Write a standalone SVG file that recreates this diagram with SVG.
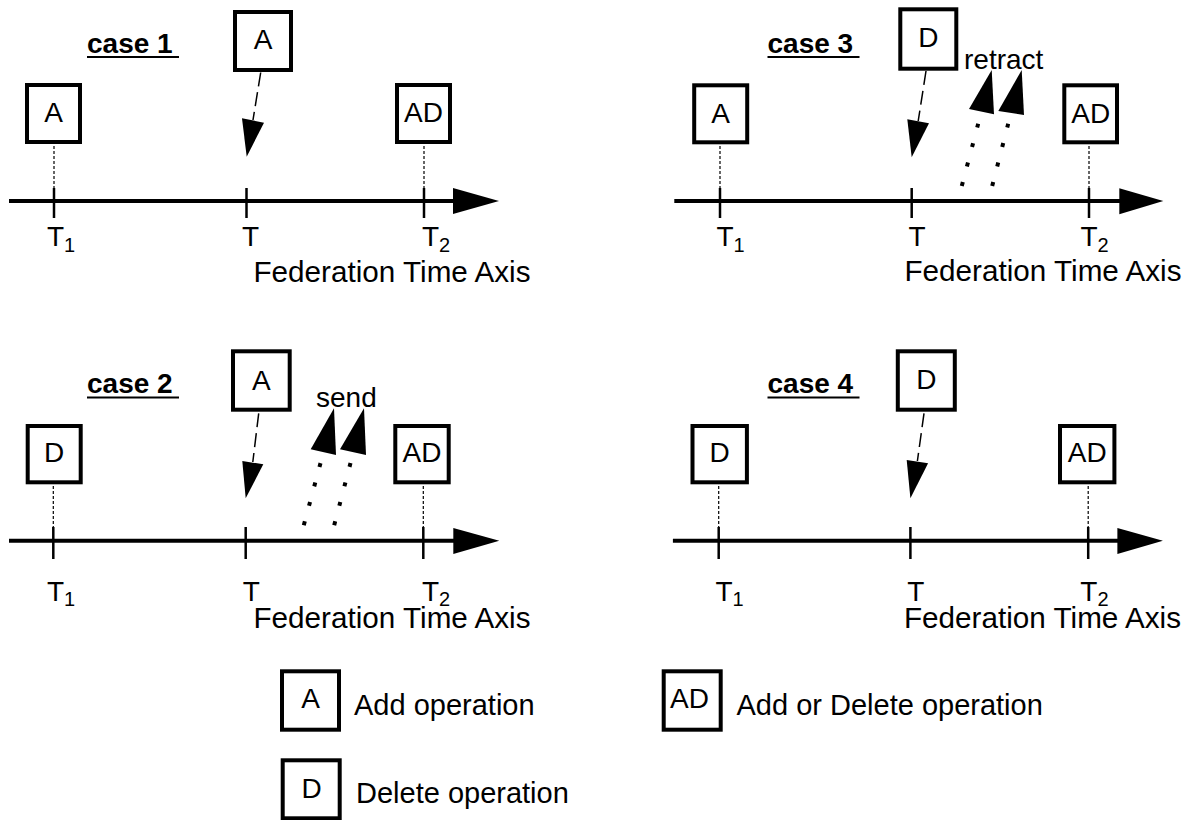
<svg xmlns="http://www.w3.org/2000/svg" width="1192" height="820" viewBox="0 0 1192 820">
<style>
  text { font-family: "Liberation Sans", Arial, Helvetica, sans-serif; fill: #000; }
  .lbl { font-size: 28px; }
  .box-t { font-size: 28px; text-anchor: middle; }
  .title { font-size: 28px; font-weight: bold; }
  .leg { font-size: 29px; }
  .fta { font-size: 29px; }
  .sub { font-size: 20px; }
  .box { fill: #fff; stroke: #000; stroke-width: 4; }
  .uline { stroke: #000; stroke-width: 2; }
  .axis { stroke: #000; stroke-width: 4; fill: none; }
  .tick { stroke: #000; stroke-width: 2.5; }
  .guide { stroke: #000; stroke-width: 1.2; stroke-dasharray: 3 2; }
  .dash { stroke: #000; stroke-width: 1.5; stroke-dasharray: 14 6; fill: none; }
  .dots { stroke: #000; stroke-width: 4; stroke-dasharray: 4 16.1; fill: none; }
  .head { fill: #000; stroke: none; }
</style>
<rect width="1192" height="820" fill="#fff"/>

<!-- ===================== CASE 1 ===================== -->
<g id="case1">
  <g id="case1-title">
    <text class="title" x="87" y="53">case 1</text>
    <line class="uline" x1="87" y1="57" x2="179" y2="57"/>
  </g>
  <g id="case1-axis">
    <line class="axis" x1="9" y1="201" x2="456" y2="201"/>
    <polygon class="head" points="453,188 499,201 453,214"/>
    <line class="tick" x1="54" y1="188" x2="54" y2="218"/>
    <line class="tick" x1="246.5" y1="188" x2="246.5" y2="218"/>
    <line class="tick" x1="424" y1="188" x2="424" y2="218"/>
    <text class="lbl" x="47" y="245.5">T<tspan class="sub" dy="6.5">1</tspan></text>
    <text class="lbl" x="242" y="245.5">T</text>
    <text class="lbl" x="422" y="245.5">T<tspan class="sub" dy="6.5">2</tspan></text>
    <text class="fta" x="253.5" y="281.5" textLength="277" lengthAdjust="spacingAndGlyphs">Federation Time Axis</text>
  </g>
  <g id="case1-A-left">
    <rect class="box" x="27" y="85" width="53" height="57"/>
    <text class="box-t" x="53.5" y="122">A</text>
  </g>
  <g id="case1-A-top">
    <rect class="box" x="235" y="12" width="56" height="58"/>
    <text class="box-t" x="263" y="49">A</text>
  </g>
  <g id="case1-AD">
    <rect class="box" x="397" y="85" width="53" height="57"/>
    <text class="box-t" x="423.5" y="122">AD</text>
  </g>
</g>

<!-- ===================== CASE 2 ===================== -->
<g id="case2">
  <g id="case2-title">
    <text class="title" x="87" y="393.3">case 2</text>
    <line class="uline" x1="87" y1="397.5" x2="179" y2="397.5"/>
  </g>
  <g id="case2-axis">
    <line class="axis" x1="9" y1="540.7" x2="456" y2="540.7"/>
    <polygon class="head" points="453.3,528 499.3,540.7 453.3,554"/>
    <line class="tick" x1="53.3" y1="527" x2="53.3" y2="559"/>
    <line class="tick" x1="245.7" y1="527" x2="245.7" y2="559"/>
    <line class="tick" x1="423.3" y1="527" x2="423.3" y2="559"/>
    <text class="lbl" x="47" y="600.5">T<tspan class="sub" dy="5">1</tspan></text>
    <text class="lbl" x="242.7" y="600.5">T</text>
    <text class="lbl" x="422" y="600.5">T<tspan class="sub" dy="5">2</tspan></text>
    <text class="fta" x="253.5" y="628" textLength="277" lengthAdjust="spacingAndGlyphs">Federation Time Axis</text>
  </g>
  <g id="case2-D-left">
    <rect class="box" x="27.7" y="426" width="53" height="56.3"/>
    <text class="box-t" x="54.2" y="461.7">D</text>
  </g>
  <g id="case2-A-top">
    <rect class="box" x="233" y="351.3" width="56.7" height="58.4"/>
    <text class="box-t" x="261.3" y="390">A</text>
  </g>
  <g id="case2-AD">
    <rect class="box" x="395.3" y="426" width="53.4" height="56.3"/>
    <text class="box-t" x="422" y="461.7">AD</text>
  </g>
  <text class="lbl" x="316" y="407.3">send</text>
</g>

<!-- ===================== CASE 3 ===================== -->
<g id="case3">
  <g id="case3-title">
    <text class="title" x="767.5" y="53.3">case 3</text>
    <line class="uline" x1="767.5" y1="57" x2="859.5" y2="57"/>
  </g>
  <g id="case3-axis">
    <line class="axis" x1="674.3" y1="201" x2="1122" y2="201"/>
    <polygon class="head" points="1119.3,188.3 1163.3,201 1119.3,214.3"/>
    <line class="tick" x1="720" y1="188" x2="720" y2="218"/>
    <line class="tick" x1="911.7" y1="188" x2="911.7" y2="218"/>
    <line class="tick" x1="1089" y1="188" x2="1089" y2="218"/>
    <text class="lbl" x="716.5" y="245.5">T<tspan class="sub" dy="6.5">1</tspan></text>
    <text class="lbl" x="908.5" y="245.5">T</text>
    <text class="lbl" x="1080.5" y="245.5">T<tspan class="sub" dy="6.5">2</tspan></text>
    <text class="fta" x="904.5" y="281" textLength="277" lengthAdjust="spacingAndGlyphs">Federation Time Axis</text>
  </g>
  <g id="case3-A-left">
    <rect class="box" x="694.2" y="85.3" width="53" height="57"/>
    <text class="box-t" x="720.7" y="122.5">A</text>
  </g>
  <g id="case3-D-top">
    <rect class="box" x="900.3" y="9.3" width="56" height="59.4"/>
    <text class="box-t" x="928.3" y="46.7">D</text>
  </g>
  <g id="case3-AD">
    <rect class="box" x="1064.3" y="85.3" width="52.7" height="57"/>
    <text class="box-t" x="1090.7" y="122.5">AD</text>
  </g>
  <text class="lbl" x="964" y="69">retract</text>
</g>

<!-- ===================== CASE 4 ===================== -->
<g id="case4">
  <g id="case4-title">
    <text class="title" x="767.5" y="393.3">case 4</text>
    <line class="uline" x1="767.5" y1="397.5" x2="859.5" y2="397.5"/>
  </g>
  <g id="case4-axis">
    <line class="axis" x1="672.9" y1="540.7" x2="1120" y2="540.7"/>
    <polygon class="head" points="1117.4,528 1162.9,540.7 1117.4,554"/>
    <line class="tick" x1="718.7" y1="527" x2="718.7" y2="559"/>
    <line class="tick" x1="910.4" y1="527" x2="910.4" y2="559"/>
    <line class="tick" x1="1088.2" y1="527" x2="1088.2" y2="559"/>
    <text class="lbl" x="715.5" y="600.5">T<tspan class="sub" dy="5">1</tspan></text>
    <text class="lbl" x="907.2" y="600.5">T</text>
    <text class="lbl" x="1080.3" y="600.5">T<tspan class="sub" dy="5">2</tspan></text>
    <text class="fta" x="904" y="628" textLength="277" lengthAdjust="spacingAndGlyphs">Federation Time Axis</text>
  </g>
  <g id="case4-D-left">
    <rect class="box" x="692.5" y="426" width="54.4" height="56.3"/>
    <text class="box-t" x="719.7" y="461.7">D</text>
  </g>
  <g id="case4-D-top">
    <rect class="box" x="897.8" y="351.3" width="57" height="58.4"/>
    <text class="box-t" x="926.4" y="389">D</text>
  </g>
  <g id="case4-AD">
    <rect class="box" x="1060" y="426" width="54.4" height="56.3"/>
    <text class="box-t" x="1087.2" y="461.7">AD</text>
  </g>
</g>

<!-- ===================== CONNECTORS ===================== -->
<g id="connectors">
  <line class="guide" x1="54" y1="146" x2="54" y2="188"/>
  <line class="guide" x1="424" y1="146" x2="424" y2="188"/>
  <line class="guide" x1="53.3" y1="486" x2="53.3" y2="527"/>
  <line class="guide" x1="423.3" y1="486" x2="423.3" y2="527"/>
  <line class="guide" x1="720" y1="146" x2="720" y2="188"/>
  <line class="guide" x1="1089" y1="146" x2="1089" y2="188"/>
  <line class="guide" x1="718.7" y1="486" x2="718.7" y2="527"/>
  <line class="guide" x1="1088.2" y1="486" x2="1088.2" y2="527"/>

  <line class="dash" x1="260.7" y1="72.5" x2="253" y2="120"/>
  <polygon class="head" points="242,118.3 264,122.7 246.7,156.7"/>
  <line class="dash" x1="258.7" y1="413.3" x2="252.8" y2="462"/>
  <polygon class="head" points="242.3,461 263.3,464.3 245.7,498.3"/>
  <line class="dash" x1="926" y1="71" x2="918.2" y2="121"/>
  <polygon class="head" points="907.3,119.3 929,123.3 911.7,157.3"/>
  <line class="dash" x1="924" y1="413.3" x2="917.4" y2="461"/>
  <polygon class="head" points="906.7,460 928.1,463.3 910.4,498.3"/>

  <line class="dots" x1="303.8" y1="525.2" x2="320.5" y2="463.1"/>
  <polygon class="head" points="310.7,449.3 336,455 334,408.3"/>
  <line class="dots" x1="334.2" y1="525.2" x2="350.5" y2="463.1"/>
  <polygon class="head" points="340,449.3 366,455 364,408.3"/>

  <line class="dots" x1="961.8" y1="185.9" x2="978.2" y2="123.8"/>
  <polygon class="head" points="969,109 994,114.3 991.7,70"/>
  <line class="dots" x1="992.2" y1="185.9" x2="1008.2" y2="123.8"/>
  <polygon class="head" points="998.3,111 1024,115 1021.7,70"/>
</g>

<!-- ===================== LEGEND ===================== -->
<g id="legend-A">
  <rect class="box" x="282" y="671.3" width="57" height="58.4"/>
  <text class="box-t" x="310.5" y="708.3">A</text>
  <text class="leg" x="354" y="715">Add operation</text>
</g>
<g id="legend-AD">
  <rect class="box" x="663.7" y="671.3" width="57" height="58.4"/>
  <text class="box-t" x="689.5" y="708.3">AD</text>
  <text class="leg" x="736.5" y="715">Add or Delete operation</text>
</g>
<g id="legend-D">
  <rect class="box" x="282.7" y="760.3" width="57" height="58"/>
  <text class="box-t" x="311.5" y="798.3">D</text>
  <text class="leg" x="356" y="803.3">Delete operation</text>
</g>
</svg>
